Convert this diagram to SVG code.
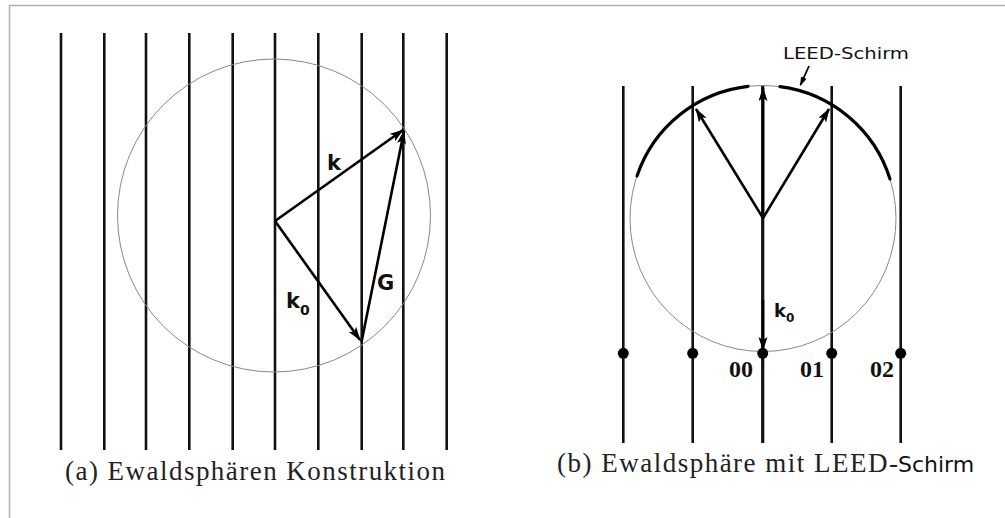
<svg xmlns="http://www.w3.org/2000/svg" width="1005" height="518" viewBox="0 0 1005 518">
<style>
.lat{stroke:#111;stroke-width:2.6;fill:none}
.vec{stroke:#000;stroke-width:2.6;fill:none;marker-end:url(#ah)}
.circ{stroke:#888;stroke-width:1;fill:none}
.screen{stroke:#000;stroke-width:3.2;fill:none;stroke-linecap:round}
.lbl{font-family:"DejaVu Sans",sans-serif;font-weight:bold;fill:#111}
.cap{font-family:"Liberation Serif",serif;font-size:27px;fill:#222}
.idx{font-family:"Liberation Serif",serif;font-weight:bold;font-size:24px;fill:#111}
.dot{fill:#000}
</style>
<defs>
<marker id="ah" markerUnits="userSpaceOnUse" markerWidth="14" markerHeight="10" refX="13" refY="4.5" orient="auto">
<path d="M0,0 L14,4.5 L0,9 L3,4.5 z" fill="#000"/>
</marker>
<marker id="ahs" markerUnits="userSpaceOnUse" markerWidth="9" markerHeight="7" refX="8" refY="3" orient="auto">
<path d="M0,0 L9,3 L0,6 z" fill="#000"/>
</marker>
</defs>
<rect width="1005" height="518" fill="#fff"/>
<g id="frame" stroke="#b0b0b0" stroke-width="1.5" fill="none">
<path d="M9.5,518 V5.5 H1005"/>
</g>

<g id="panel-a">
<g id="lattice-a" class="lat">
<line x1="61" y1="33" x2="61" y2="450"/>
<line x1="104.3" y1="33" x2="104.3" y2="450"/>
<line x1="146" y1="33" x2="146" y2="450"/>
<line x1="189.3" y1="33" x2="189.3" y2="450"/>
<line x1="232.7" y1="33" x2="232.7" y2="450"/>
<line x1="275" y1="33" x2="275" y2="450"/>
<line x1="318.3" y1="33" x2="318.3" y2="450"/>
<line x1="361.7" y1="33" x2="361.7" y2="450"/>
<line x1="403.3" y1="33" x2="403.3" y2="450"/>
<line x1="446.7" y1="33" x2="446.7" y2="450"/>
</g>
<circle id="ewald-a" class="circ" cx="274" cy="215.5" r="156.5"/>
<g id="vectors-a">
<line class="vec" x1="275" y1="221" x2="403" y2="130"/>
<line class="vec" x1="275" y1="221" x2="360" y2="340"/>
<line class="vec" x1="361.5" y1="342" x2="404" y2="131"/>
</g>
<text class="lbl" x="327" y="170" font-size="21">k</text>
<text class="lbl" x="286" y="308" font-size="21">k<tspan font-size="14" dy="7">0</tspan></text>
<text class="lbl" x="377" y="290" font-size="21">G</text>
<text id="cap-a" class="cap" x="65" y="480" textLength="380" lengthAdjust="spacing">(a) Ewaldsphären Konstruktion</text>
</g>

<g id="panel-b">
<g id="lattice-b" class="lat">
<line x1="623.3" y1="86" x2="623.3" y2="443"/>
<line x1="692.7" y1="86" x2="692.7" y2="443"/>
<line x1="762.7" y1="86" x2="762.7" y2="443" stroke-width="3.2"/>
<line x1="831.7" y1="86" x2="831.7" y2="443"/>
<line x1="900.7" y1="86" x2="900.7" y2="443"/>
</g>
<circle id="ewald-b" class="circ" cx="763" cy="218.5" r="133"/>
<g id="screen">
<path class="screen" d="M637,175.9 A133,133 0 0 1 748,86.3"/>
<path class="screen" d="M780,86.6 A133,133 0 0 1 890,179"/>
</g>
<g id="vectors-b">
<line class="vec" x1="763" y1="218" x2="763" y2="88"/>
<line class="vec" x1="763" y1="218" x2="696" y2="109"/>
<line class="vec" x1="763" y1="218" x2="829" y2="109"/>
<line class="vec" x1="763" y1="300" x2="763" y2="350"/>
<line stroke="#000" stroke-width="1.8" x1="809" y1="66" x2="800.5" y2="85" marker-end="url(#ahs)"/>
</g>
<g id="points">
<circle class="dot" cx="623.3" cy="353.3" r="5.5"/>
<circle class="dot" cx="692.7" cy="353.3" r="5.5"/>
<circle class="dot" cx="762.7" cy="353.3" r="5.5"/>
<circle class="dot" cx="831.7" cy="353.3" r="5.5"/>
<circle class="dot" cx="900.7" cy="353.3" r="5.5"/>
</g>
<text class="idx" x="729" y="377">00</text>
<text class="idx" x="800" y="377">01</text>
<text class="idx" x="870" y="377">02</text>
<text class="lbl" x="774" y="317" font-size="18">k<tspan font-size="12" dy="5">0</tspan></text>
<text id="screen-label" x="783" y="59" font-family="DejaVu Sans,sans-serif" font-size="16" fill="#111" textLength="126" lengthAdjust="spacingAndGlyphs">LEED-Schirm</text>
<text id="cap-b" y="472"><tspan class="cap" x="557" textLength="341" lengthAdjust="spacing">(b) Ewaldsphäre mit LEED-</tspan><tspan x="898" font-family="DejaVu Sans,sans-serif" font-size="22" fill="#111">Schirm</tspan></text>
</g>
</svg>
